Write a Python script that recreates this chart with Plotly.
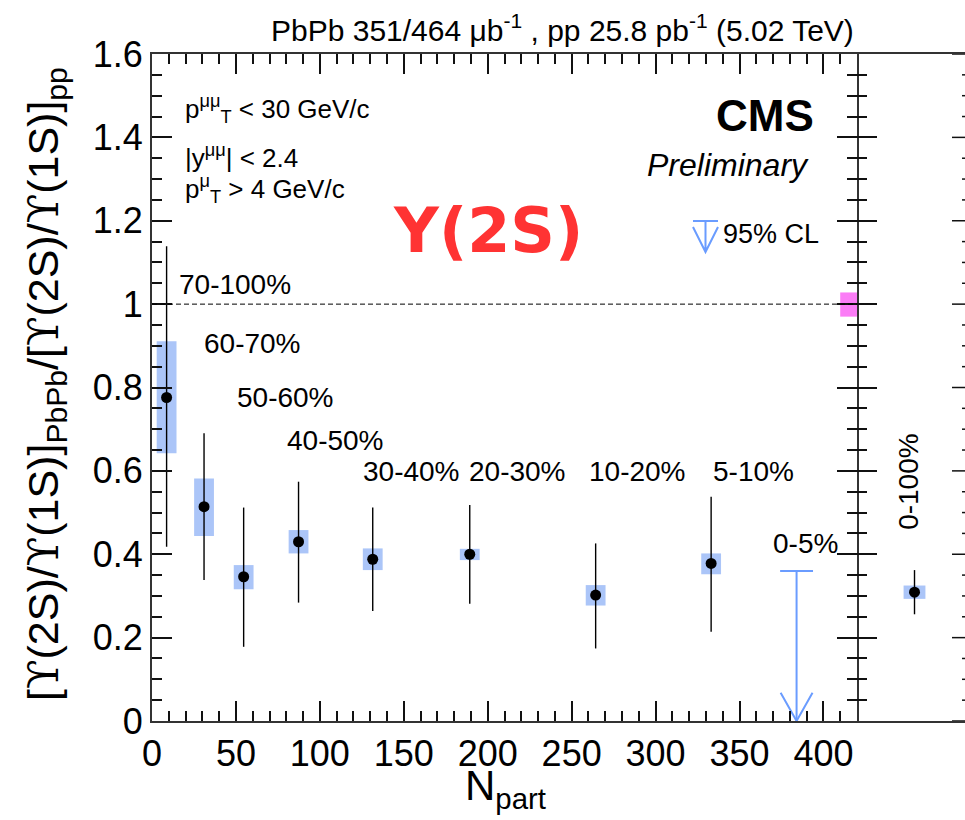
import plotly.graph_objects as go

# ---------------- data ----------------
centrality = ["70-100%", "60-70%", "50-60%", "40-50%", "30-40%", "20-30%", "10-20%", "5-10%"]
npart = [8.7, 31.0, 54.6, 87.3, 131.5, 189.3, 264.3, 333.1]
ratio = [0.776, 0.514, 0.346, 0.430, 0.388, 0.400, 0.302, 0.378]
stat_hi = [1.139, 0.690, 0.512, 0.574, 0.512, 0.518, 0.426, 0.538]
stat_lo = [0.418, 0.338, 0.178, 0.284, 0.264, 0.281, 0.174, 0.214]
sys_hi = [0.911, 0.582, 0.374, 0.458, 0.414, 0.413, 0.326, 0.402]
sys_lo = [0.642, 0.444, 0.316, 0.402, 0.362, 0.386, 0.277, 0.352]

# upper limit (0-5%)
ul_label = "0-5%"
ul_npart = 384.0
ul_value = 0.360

# integrated 0-100%
int_label = "0-100%"
int_ratio = 0.309
int_stat_hi = 0.362
int_stat_lo = 0.256
int_sys_hi = 0.325
int_sys_lo = 0.293

# global uncertainty box at unity
glob_hi = 1.028
glob_lo = 0.970

# label positions (Npart, ratio)
label_x = [49.4, 60.0, 79.7, 109.1, 154.3, 217.6, 289.5, 358.2]
label_y = [1.046, 0.906, 0.776, 0.674, 0.598, 0.598, 0.598, 0.598]

# ---------------- geometry helpers ----------------
W, H = 965, 820
L, R, T, B = 152, 0, 54, 99
PW = W - L - R
PH = H - T - B
XSPLIT = 857


def px(xp):
    return (xp - L) / PW


def py(yp):
    return (H - B - yp) / PH


main_dom = [0, px(XSPLIT)]
blue_sys = "#abc5f8"
blue_ul = "#6a9cff"
font = "Liberation Sans, Arial, Helvetica, sans-serif"
axcol = "#111"

fig = go.Figure()

# systematic boxes (main panel)
fig.add_trace(go.Bar(
    x=npart, base=sys_lo, y=[h - l for h, l in zip(sys_hi, sys_lo)],
    width=[11.8] * len(npart), marker=dict(color=blue_sys, line=dict(width=0)),
    xaxis="x", yaxis="y", showlegend=False, hoverinfo="skip"))

# global uncertainty box
fig.add_trace(go.Bar(
    x=[415], base=[glob_lo], y=[glob_hi - glob_lo], width=[10],
    marker=dict(color="#fb7cf6", line=dict(width=0)),
    xaxis="x", yaxis="y", showlegend=False, hoverinfo="skip"))

# points with statistical errors
fig.add_trace(go.Scatter(
    x=npart, y=ratio, mode="markers",
    marker=dict(color="black", size=11),
    error_y=dict(type="data", symmetric=False,
                 array=[h - v for h, v in zip(stat_hi, ratio)],
                 arrayminus=[v - l for l, v in zip(stat_lo, ratio)],
                 color="black", thickness=1.4, width=0),
    xaxis="x", yaxis="y", showlegend=False))

# upper limit arrow
cap = 9.8
head_w = 9.5
head_h = 0.068
fig.add_trace(go.Scatter(
    x=[ul_npart - cap, ul_npart + cap, None, ul_npart, ul_npart, None,
       ul_npart - head_w, ul_npart, ul_npart + head_w],
    y=[ul_value, ul_value, None, ul_value, 0, None, head_h, 0, head_h],
    mode="lines", line=dict(color=blue_ul, width=2),
    xaxis="x", yaxis="y", showlegend=False, hoverinfo="skip"))

# right panel: integrated
fig.add_trace(go.Bar(
    x=[0.5], base=[int_sys_lo], y=[int_sys_hi - int_sys_lo], width=[0.19],
    marker=dict(color=blue_sys, line=dict(width=0)),
    xaxis="x2", yaxis="y2", showlegend=False, hoverinfo="skip"))
fig.add_trace(go.Scatter(
    x=[0.5], y=[int_ratio], mode="markers",
    marker=dict(color="black", size=11),
    error_y=dict(type="data", symmetric=False,
                 array=[int_stat_hi - int_ratio], arrayminus=[int_ratio - int_stat_lo],
                 color="black", thickness=1.4, width=0),
    xaxis="x2", yaxis="y2", showlegend=False))

fig.update_layout(
    width=W, height=H,
    margin=dict(l=L, r=R, t=T, b=B, pad=0),
    paper_bgcolor="white", plot_bgcolor="white",
    font=dict(family=font, color="black"),
    barmode="overlay",
    showlegend=False,
    xaxis=dict(domain=main_dom, range=[0, 420], anchor="y",
               tickmode="linear", tick0=0, dtick=50,
               ticks="inside", ticklen=20, tickwidth=1.5, tickcolor=axcol,
               showline=True, linecolor="#333", linewidth=2, mirror="ticks",
               showgrid=False, zeroline=False,
               minor=dict(tickmode="linear", tick0=0, dtick=10, ticks="inside",
                          ticklen=10, tickwidth=1.5, tickcolor=axcol, showgrid=False),
               tickfont=dict(size=36, family=font)),
    yaxis=dict(domain=[0, 1], range=[0, 1.6], anchor="x",
               tickmode="linear", tick0=0, dtick=0.2,
               ticks="inside", ticklen=20, tickwidth=1.5, tickcolor=axcol,
               showline=True, linecolor="#333", linewidth=2, mirror="ticks",
               showgrid=False, zeroline=False,
               minor=dict(tickmode="linear", tick0=0, dtick=0.05, ticks="inside",
                          ticklen=10, tickwidth=1.5, tickcolor=axcol, showgrid=False),
               tickfont=dict(size=36, family=font)),
    xaxis2=dict(domain=[px(XSPLIT), 1], range=[0, 0.939], anchor="y2",
                showticklabels=False, ticks="", showline=True, linecolor="#333",
                linewidth=2, mirror=True, showgrid=False, zeroline=False),
    yaxis2=dict(domain=[0, 1], range=[0, 1.6], anchor="x2",
                tickmode="linear", tick0=0, dtick=0.2,
                ticks="inside", ticklen=20, tickwidth=1.5, tickcolor=axcol,
                showticklabels=False, showline=False, showgrid=False, zeroline=False,
                minor=dict(tickmode="linear", tick0=0, dtick=0.05, ticks="inside",
                           ticklen=10, tickwidth=1.5, tickcolor=axcol, showgrid=False)),
)

shapes = []
# dashed line at unity
shapes.append(dict(type="line", xref="x", yref="y", x0=0, x1=420, y0=1, y1=1,
                   line=dict(color="black", width=1, dash="5px,3px"), layer="above"))
# far-right axis ticks (axis itself lies just outside the picture)
for i in range(33):
    v = i * 0.05
    ln = 13 if i % 4 == 0 else 3
    shapes.append(dict(type="line", xref="paper", yref="y2", x0=1 - ln / PW, x1=1, y0=v, y1=v,
                       line=dict(color=axcol, width=1.5)))
# legend symbol for 95% CL
shapes.append(dict(type="path", xref="paper", yref="paper",
                   path=(f"M {px(693)} {py(221)} L {px(718)} {py(221)} "
                         f"M {px(705.5)} {py(221)} L {px(705.5)} {py(252)} "
                         f"M {px(693)} {py(227)} L {px(705.5)} {py(252)} L {px(718)} {py(227)}"),
                   line=dict(color=blue_ul, width=2)))
fig.update_layout(shapes=shapes)

ann = []
# centrality labels
for lab, lx, ly in zip(centrality, label_x, label_y):
    ann.append(dict(text=lab, x=lx, y=ly, xref="x", yref="y", showarrow=False,
                    font=dict(size=28, family=font)))
ann.append(dict(text=ul_label, x=389.2, y=0.426, xref="x", yref="y", showarrow=False,
                font=dict(size=28, family=font)))
ann.append(dict(text=int_label, x=0.452, y=0.576, xref="x2", yref="y2", showarrow=False,
                textangle=-90, font=dict(size=28, family=font)))

# title
ann.append(dict(text="PbPb 351/464 μb<sup>-1</sup> , pp 25.8 pb<sup>-1</sup> (5.02 TeV)",
                x=px(856), y=py(28), xref="paper", yref="paper", xanchor="right", yanchor="middle",
                showarrow=False, font=dict(size=30, family=font)))
# kinematic conditions
ann.append(dict(text="p<sup>μμ</sup><sub>T</sub> < 30 GeV/c", x=px(183), y=py(109),
                xref="paper", yref="paper", xanchor="left", yanchor="middle",
                showarrow=False, font=dict(size=26, family=font)))
ann.append(dict(text="|y<sup>μμ</sup>| < 2.4", x=px(183), y=py(156),
                xref="paper", yref="paper", xanchor="left", yanchor="middle",
                showarrow=False, font=dict(size=26, family=font)))
ann.append(dict(text="p<sup>μ</sup><sub>T</sub> > 4 GeV/c", x=px(183), y=py(189),
                xref="paper", yref="paper", xanchor="left", yanchor="middle",
                showarrow=False, font=dict(size=26, family=font)))
# CMS Preliminary
ann.append(dict(text="<b>CMS</b>", x=px(816), y=py(115), xref="paper", yref="paper",
                xanchor="right", yanchor="middle", showarrow=False,
                font=dict(size=44, family=font)))
ann.append(dict(text="<i>Preliminary</i>", x=px(811), y=py(165), xref="paper", yref="paper",
                xanchor="right", yanchor="middle", showarrow=False,
                font=dict(size=32, family=font)))
# Y(2S) tag
ann.append(dict(text="<b>Y(2S)</b>", x=px(487.5), y=py(230), xref="paper", yref="paper",
                xanchor="center", yanchor="middle", showarrow=False,
                font=dict(size=62, family="DejaVu Sans", color="#ff3333")))
# 95% CL legend text
ann.append(dict(text="95% CL", x=px(721), y=py(234), xref="paper", yref="paper",
                xanchor="left", yanchor="middle", showarrow=False,
                font=dict(size=27, family=font)))
# axis titles
ann.append(dict(text="N<sub>part</sub>", x=px(505), y=py(788), xref="paper", yref="paper",
                xanchor="center", yanchor="middle", showarrow=False,
                font=dict(size=42, family=font)))
ups = '<span style="font-family:DejaVu Serif">ϒ</span>'
ann.append(dict(text=f"[{ups}(2S)/{ups}(1S)]<sub>PbPb</sub>/[{ups}(2S)/{ups}(1S)]<sub>pp</sub>",
                x=px(46), y=py(384), xref="paper", yref="paper",
                xanchor="center", yanchor="middle", textangle=-90, showarrow=False,
                font=dict(size=43, family=font)))

fig.update_layout(annotations=ann)
fig.write_html("out.html")
